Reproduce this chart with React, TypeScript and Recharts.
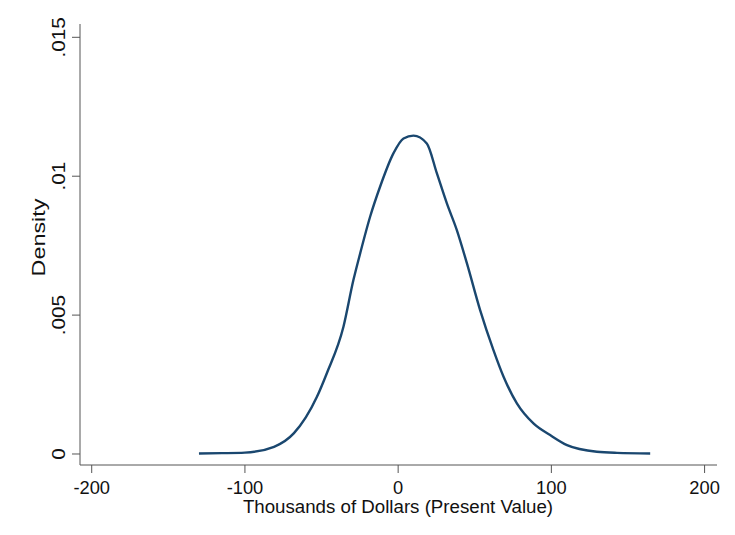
import React from "react";
import { LineChart, Line, XAxis, YAxis } from "recharts";

const xValues = [-130, -115, -100, -81, -68, -53, -46.6, -35.7, -29.2, -24.8, -18.3, -11.8, -3.1, 3.5, 10, 18.7, 25.3, 31.8, 38.3, 44.9, 53.5, 62.2, 68.8, 77.5, 88.3, 99.2, 110.2, 129.7, 142.8, 164.5];
const densityValues = [0.00002, 0.00003, 0.00005, 0.00026, 0.00075, 0.00206, 0.0029, 0.00458, 0.00626, 0.00722, 0.00854, 0.00962, 0.01082, 0.01136, 0.01146, 0.01118, 0.0101, 0.00902, 0.00806, 0.00686, 0.00518, 0.00374, 0.00278, 0.00182, 0.0011, 0.00068, 0.00032, 0.00008, 0.00004, 0.00002];
const xTicks = [-200, -100, 0, 100, 200];
const yTicks = [0, 0.005, 0.01, 0.015];
const yTickLabels = ["0", ".005", ".01", ".015"];
const xTitle = "Thousands of Dollars (Present Value)";
const yTitle = "Density";

const data = xValues.map((x, i) => ({ x, d: densityValues[i] }));

const FONT = "'Liberation Sans', Arial, sans-serif";
const AXIS_COLOR = "#555555";
const TEXT_COLOR = "#111111";

const XTick = (props: any) => {
  const { x, y, payload } = props;
  return (
    <text x={x} y={y + 19} textAnchor="middle" fontFamily={FONT} fontSize={18.3} fill={TEXT_COLOR}>
      {payload.value}
    </text>
  );
};

const YTick = (props: any) => {
  const { x, y, payload } = props;
  const idx = yTicks.indexOf(payload.value);
  const label = idx >= 0 ? yTickLabels[idx] : String(payload.value);
  return (
    <text
      transform={`translate(${x - 5}, ${y}) rotate(-90) scale(1.15, 1)`}
      textAnchor="middle"
      fontFamily={FONT}
      fontSize={18}
      fill={TEXT_COLOR}
    >
      {label}
    </text>
  );
};

const XTitle = () => (
  <text x={390} y={505} textAnchor="middle" fontFamily={FONT} fontSize={18.7} fill={TEXT_COLOR}>
    {xTitle}
  </text>
);

const YTitle = (props: any) => {
  const vb = props.viewBox || {};
  const cy = vb.y + vb.height / 2;
  return (
    <text
      transform={`translate(37, ${cy - 7}) rotate(-90) scale(1.3, 1)`}
      textAnchor="middle"
      fontFamily={FONT}
      fontSize={18}
      fill={TEXT_COLOR}
    >
      {yTitle}
    </text>
  );
};

export default function App() {
  return (
    <div style={{ width: 719, height: 519, background: "#fff" }}>
      <LineChart width={719} height={519} data={data} margin={{ top: 16, right: 10, bottom: 0, left: 0 }}>
        <XAxis
          dataKey="x"
          type="number"
          domain={[-207.64, 208.1]}
          ticks={xTicks}
          tick={<XTick />}
          tickSize={8}
          height={62}
          stroke={AXIS_COLOR}
          tickLine={{ stroke: AXIS_COLOR }}
          allowDataOverflow
          label={<XTitle />}
        />
        <YAxis
          type="number"
          domain={[-0.000396, 0.015479]}
          ticks={yTicks}
          tick={<YTick />}
          tickSize={8}
          width={72}
          stroke={AXIS_COLOR}
          tickLine={{ stroke: AXIS_COLOR }}
          allowDataOverflow
          label={<YTitle />}
        />
        <Line
          type="monotone"
          dataKey="d"
          stroke="#1a476f"
          strokeWidth={2.4}
          dot={false}
          isAnimationActive={false}
        />
      </LineChart>
    </div>
  );
}
